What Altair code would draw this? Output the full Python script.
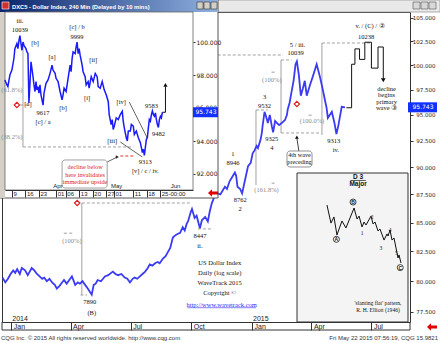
import altair as alt
import pandas as pd

W, H = 408, 310

# ---------------- main daily series: US Dollar Index ----------------
main_dates = [
    "2013-12-19", "2013-12-23", "2013-12-27", "2013-12-31",
    "2014-01-04", "2014-01-07", "2014-01-10", "2014-01-14", "2014-01-17", "2014-01-22", "2014-01-26", "2014-01-29",
    "2014-02-01", "2014-02-05", "2014-02-09", "2014-02-13", "2014-02-17", "2014-02-20", "2014-02-24", "2014-02-28",
    "2014-03-04", "2014-03-08", "2014-03-11", "2014-03-15", "2014-03-19", "2014-03-22", "2014-03-26", "2014-03-30",
    "2014-04-03", "2014-04-08", "2014-04-12", "2014-04-15", "2014-04-19", "2014-04-23", "2014-04-27",
    "2014-05-03", "2014-05-06", "2014-05-09", "2014-05-12", "2014-05-17", "2014-05-23", "2014-05-28",
    "2014-06-04", "2014-06-08", "2014-06-12", "2014-06-17", "2014-06-22", "2014-06-26", "2014-06-30",
    "2014-07-04", "2014-07-07", "2014-07-11", "2014-07-15", "2014-07-19", "2014-07-23", "2014-07-27", "2014-07-30",
    "2014-08-03", "2014-08-07", "2014-08-11", "2014-08-14", "2014-08-19", "2014-08-23", "2014-08-26", "2014-08-30",
    "2014-09-03", "2014-09-07", "2014-09-10", "2014-09-14", "2014-09-18", "2014-09-21", "2014-09-24", "2014-09-26", "2014-09-30",
    "2014-10-02", "2014-10-06", "2014-10-09", "2014-10-14", "2014-10-17", "2014-10-22", "2014-10-26", "2014-10-29",
    "2014-11-01", "2014-11-05", "2014-11-10", "2014-11-14", "2014-11-18", "2014-11-21", "2014-11-24", "2014-11-28",
    "2014-12-02", "2014-12-06", "2014-12-08", "2014-12-10", "2014-12-14", "2014-12-17", "2014-12-21", "2014-12-26", "2014-12-30",
    "2015-01-02", "2015-01-05", "2015-01-08", "2015-01-10", "2015-01-14", "2015-01-16", "2015-01-17", "2015-01-20",
    "2015-01-23", "2015-01-25", "2015-01-28", "2015-01-31",
    "2015-02-02", "2015-02-05", "2015-02-08", "2015-02-11", "2015-02-15", "2015-02-20", "2015-02-23", "2015-02-24", "2015-02-27",
    "2015-03-02", "2015-03-05", "2015-03-08", "2015-03-10", "2015-03-13", "2015-03-16", "2015-03-19", "2015-03-22", "2015-03-25", "2015-03-30",
    "2015-04-03", "2015-04-09", "2015-04-14", "2015-04-18", "2015-04-24", "2015-04-26",
    "2015-05-02", "2015-05-06", "2015-05-09", "2015-05-12", "2015-05-17", "2015-05-22",
]
main_vals = [
    80.3, 79.9, 80.2, 80.6,
    80.9, 80.7, 81.0, 80.6, 81.1, 80.9, 80.5, 80.8,
    81.1, 80.9, 80.6, 80.4, 80.2, 80.3, 80.0, 80.2,
    79.9, 79.7, 79.4, 79.6, 79.9, 80.1, 79.8, 80.1,
    80.4, 79.7, 79.9, 79.8, 80.0, 79.7, 79.4,
    78.9, 79.7, 79.8, 80.1, 80.0, 80.4, 80.5,
    80.8, 80.6, 80.5, 80.6, 80.3, 80.2, 79.9,
    80.2, 80.3, 80.2, 80.4, 80.6, 80.8, 81.1, 81.4,
    81.3, 81.5, 81.6, 81.5, 81.9, 82.1, 82.4, 82.8,
    83.7, 83.9, 84.0, 84.1, 84.6, 84.3, 84.9, 85.1, 85.9,
    86.2, 85.4, 85.6, 84.5, 85.2, 85.5, 85.1, 86.0,
    86.7, 87.3, 87.6, 87.5, 87.9, 88.2, 88.0, 88.7,
    89.1, 89.5, 89.2, 88.2, 88.0, 87.6, 88.7, 90.1, 90.4,
    91.3, 91.6, 92.0, 91.8, 92.6, 93.3, 93.9, 95.3,
    94.7, 94.2, 95.0, 93.9,
    93.3, 94.4, 94.2, 94.0, 94.2, 94.5, 95.0, 95.5, 96.2,
    97.3, 98.4, 100.1, 100.39, 99.0, 96.9, 97.6, 98.4, 96.9, 98.0,
    98.8, 100.1, 98.8, 97.6, 95.7, 94.7,
    95.3, 94.2, 93.13, 94.0, 95.8, 95.743,
]

# projected path (v. / (C) / 2)
proj_dates = ["2015-05-24", "2015-06-01", "2015-06-06", "2015-06-13", "2015-06-21", "2015-07-01", "2015-07-11", "2015-07-19"]
proj_vals = [95.7, 100.1, 101.7, 100.6, 102.4, 99.7, 101.9, 98.6]

# wave labels on the daily chart
lab_dates = ["2014-04-30", "2014-05-03", "2014-10-14", "2014-10-14", "2014-12-03", "2014-12-03", "2014-12-14", "2014-12-14",
             "2015-01-20", "2015-01-20", "2015-01-31", "2015-01-31", "2015-03-11", "2015-03-08", "2015-05-05", "2015-05-08",
             "2015-06-29", "2015-06-23", "2015-07-24", "2015-07-24", "2015-07-24", "2015-07-24",
             "2014-11-13", "2014-11-13", "2014-11-13", "2014-11-13"]
lab_vals = [78.31, 77.42, 83.83, 82.97, 91.23, 90.39, 87.0, 86.19,
            96.77, 95.88, 92.66, 91.80, 102.11, 101.27, 92.47, 91.61,
            104.14, 102.96, 97.57, 96.97, 96.27, 95.68,
            81.52, 80.69, 79.85, 79.03]
lab_texts = ["7890", "(B)", "8447", "ii.", "1", "8946", "8762", "2",
             "3", "9532", "9325", "4", "5 / iii.", "10039", "9313", "iv.",
             "v.  / (C) / \u2461", "10238", "decline", "begins", "primary", "wave \u2462",
             "US Dollar Index", "Daily (log scale)", "WaveTrack 2015", "Copyright \u00a9"]

gray_dates = ["2015-02-02", "2015-01-31", "2015-03-30", "2015-04-02", "2015-02-02", "2015-01-23", "2014-03-28", "2014-04-03"]
gray_vals = [99.30, 98.49, 94.99, 94.40, 88.55, 87.91, 84.08, 83.39]
gray_texts = ["=", "(100%)", "=", "(100.0%)", "=", "(161.8%)", "= =", "(100%)"]

solid_segs = [("2014-04-18", 78.87, "2014-04-18", 86.73),
              ("2015-01-07", 88.36, "2015-01-07", 95.48),
              ("2015-02-14", 93.24, "2015-02-14", 100.54),
              ("2015-04-17", 93.04, "2015-04-17", 102.32)]
dash_segs = [("2014-04-18", 86.73, "2014-09-29", 86.73),
             ("2014-04-16", 78.87, "2014-04-26", 78.87),
             ("2015-01-07", 95.48, "2015-01-25", 95.48),
             ("2014-11-10", 101.06, "2015-02-17", 101.06),
             ("2015-02-14", 100.54, "2015-03-02", 100.54),
             ("2015-02-14", 93.24, "2015-04-14", 93.24),
             ("2015-04-17", 102.32, "2015-07-02", 102.32),
             ("2014-10-11", 84.44, "2014-11-03", 84.44)]

marker_dates = ["2014-04-11", "2015-03-10"]
marker_vals = [86.73, 96.07]

year_dates = ["2014-01-01", "2015-01-01"]
year_texts = ["2014", "2015"]

last_price = 95.743

# ---------------- inset: 240 min series ----------------
inset_times = ["03-05 08", "03-06 10", "03-06 22", "03-07 23", "03-09 00", "03-10 01", "03-10 13", "03-11 14", "03-12 03", "03-12 16",
               "03-13 04", "03-13 17", "03-14 05", "03-14 18", "03-15 06", "03-16 07", "03-16 19", "03-17 08", "03-17 20", "03-18 09",
               "03-18 22", "03-19 23", "03-20 11", "03-21 00", "03-21 12", "03-22 00", "03-22 13", "03-23 01", "03-23 14", "03-24 02",
               "03-25 04", "03-25 16", "03-26 17", "03-27 18", "03-28 19", "03-29 20", "03-30 08", "03-31 10", "03-31 22", "04-01 23",
               "04-03 00", "04-04 01", "04-04 13", "04-05 02", "04-06 03", "04-07 04", "04-08 05", "04-08 17", "04-09 06", "04-09 18",
               "04-10 19", "04-11 08", "04-11 20", "04-12 09", "04-12 21", "04-13 10", "04-14 11", "04-14 23", "04-16 00", "04-16 13",
               "04-17 14", "04-18 02", "04-19 04", "04-20 05", "04-21 06", "04-22 06", "04-22 19", "04-23 20", "04-24 21", "04-25 22",
               "04-26 23", "04-28 00", "04-28 12", "04-29 13", "04-30 02", "04-30 14", "05-01 03", "05-02 04", "05-03 05", "05-04 06",
               "05-05 07", "05-05 19", "05-06 08", "05-07 09", "05-07 22", "05-08 10", "05-09 11", "05-10 00", "05-11 00", "05-11 13",
               "05-12 14", "05-13 15", "05-14 16", "05-15 05", "05-15 17", "05-16 06", "05-16 18", "05-17 06", "05-17 19", "05-18 07",
               "05-18 20", "05-19 08", "05-19 21", "05-20 10", "05-20 22", "05-21 11", "05-21 23", "05-22 12", "05-23 00", "05-23 12",
               "05-24 01", "05-24 13", "05-25 02", "05-25 14", "05-26 03"]
inset_vals = [97.7, 97.4, 97.3, 98.0, 98.3, 99.0, 99.6, 99.9, 99.6, 100.1,
              100.39, 99.9, 99.5, 100.0, 99.8, 99.6, 99.4, 99.3, 96.3, 97.5,
              98.8, 97.9, 97.4, 97.0, 97.6, 97.1, 97.3, 96.9, 97.4, 96.8,
              96.17, 96.9, 97.5, 97.7, 98.1, 98.6, 98.3, 98.1, 97.8, 97.6,
              97.0, 96.5, 96.8, 97.2, 97.0, 97.8, 98.6, 98.2, 99.0, 99.4,
              99.3, 99.7, 99.99, 99.3, 99.6, 99.2, 98.6, 98.2, 97.9, 97.4,
              97.6, 97.2, 97.9, 97.6, 98.1, 97.9, 97.3, 97.2, 97.6, 97.1,
              96.8, 96.4, 95.6, 95.0, 95.3, 94.7, 94.9, 95.4, 95.3, 95.6,
              95.8, 95.2, 94.8, 94.2, 94.0, 94.6, 94.6, 95.0, 94.9, 94.4,
              94.6, 94.2, 93.9, 93.6, 93.3, 93.5, 93.13, 93.6, 94.1, 94.2,
              94.8, 95.3, 95.2, 95.6, 95.83, 95.6, 95.5, 95.7, 95.3, 95.0,
              94.82, 95.3, 95.5, 95.4, 95.743]

in_lab_times = ["03-13 04", "03-13 04", "03-21 00", "03-17 08", "03-25 04", "03-25 04", "03-29 20", "04-04 13",
                "04-11 20", "04-11 20", "04-20 05", "04-17 00", "05-04 18", "04-30 02", "05-20 10", "05-24 01",
                "05-17 06", "05-17 06"]
in_lab_vals = [101.27, 100.73, 99.94, 96.24, 95.70, 95.15, 99.10, 96.00,
               100.91, 100.30, 98.90, 96.60, 96.36, 94.00, 96.12, 94.42,
               92.73, 92.18]
in_lab_texts = ["iii.", "10039", "[b]", "[a]", "9617", "[c] / a", "[a]", "[b]",
                "[c] / b", "9999", "[ii]", "[i]", "[iv]", "[iii]", "9583", "9482",
                "9313", "[v] / c / iv."]

in_gray_times = ["03-09 00", "03-09 00"]
in_gray_vals = [97.10, 94.24]
in_gray_texts = ["(61.8%)", "(38.2%)"]

in_red_times = ["04-16 00", "04-16 00", "04-16 00"]
in_red_vals = [92.42, 91.94, 91.52]
in_red_texts = ["decline below", "here invalidates", "immediate upside"]

in_month_times = ["04-01 00", "05-01 00", "06-01 00"]
in_month_texts = ["Apr", "May", "Jun"]

in_axis_vals = [92, 94, 98, 100]
in_hidden_tick = 96.0

in_gray_segs = [("03-14 18", 93.64, "03-14 18", 99.94)]
in_dash_segs = [("03-14 18", 93.64, "05-11 01", 93.64), ("03-13 04", 96.18, "03-18 09", 96.18)]
in_trend_segs = [("05-08 22", 96.36, "05-18 07", 94.18), ("05-04 06", 93.94, "05-15 17", 93.03),
                 ("04-27 11", 92.73, "05-02 17", 93.03)]
in_red_segs = [("05-04 06", 93.09, "05-11 00", 93.09)]
in_arrow_times = ["05-26 03", "05-27 17", "05-27 17"]
in_arrow_vals = [95.743, 95.743, 97.3]

# ---------------- schematic "D 3 Major" (slanting flat) ----------------
sch_x = [27.0, 30.6, 33.3, 36.0, 40.5, 44.1, 51.4, 54.1, 55.9, 58.6, 60.4, 62.2, 66.7, 68.5, 70.3, 73.0, 74.8,
         78.4, 81.1, 82.0, 83.8, 85.6, 87.4, 91.0, 91.9, 93.7]
sch_y = [78.5, 66.4, 70.5, 58.4, 67.8, 63.1, 76.5, 69.1, 71.1, 63.8, 67.1, 65.1, 71.1, 65.8, 67.1, 61.1, 62.4,
         55.0, 59.1, 57.7, 61.7, 55.0, 56.4, 43.0, 45.0, 39.6]
sch_circ_x = [35.5, 50.5, 93.0]
sch_circ_y = [55.5, 80.5, 36.5]
sch_circ_t = ["A", "B", "C"]
sch_num_x = [58.6, 67.6, 75.5, 83.8, 89.5]
sch_num_y = [59.5, 70.5, 49.5, 61.5, 46.0]
sch_num_t = ["1", "2", "3", "4", "5"]


# ---------------- helpers ----------------
def dts(s):
    return s + "T00:00"


def its(s):
    return "2015-" + s[:5] + "T" + s[6:8] + ":00"


one = pd.DataFrame({"k": [0]})


def vbox(x1, x2, y1, y2, **kw):
    return alt.Chart(one).mark_rect(**kw).encode(
        x=alt.value(x1), x2=alt.value(x2), y=alt.value(y1), y2=alt.value(y2))


def vtext(txt, x, y, **kw):
    return alt.Chart(one).mark_text(**kw).encode(x=alt.value(x), y=alt.value(y), text=alt.value(txt))


SERIF = "Liberation Serif"
SANS = "Liberation Sans"

# ---------------- main scales ----------------
mx_scale = alt.Scale(type="time", nice=False,
                     domain=[alt.DateTime(year=2013, month=12, date=18),
                             alt.DateTime(year=2015, month=8, date=28, hours=12)])
my_scale = alt.Scale(type="log", domain=[76.70, 105.65], nice=False, zero=False)
mx_axis = alt.Axis(title=None, orient="bottom", format="%b", grid=False, domain=False,
                   values=[alt.DateTime(year=2014, month=1, date=1), alt.DateTime(year=2014, month=4, date=1),
                           alt.DateTime(year=2014, month=7, date=1), alt.DateTime(year=2014, month=10, date=1),
                           alt.DateTime(year=2015, month=1, date=1), alt.DateTime(year=2015, month=4, date=1),
                           alt.DateTime(year=2015, month=7, date=1)],
                   labelAlign="left", labelOffset=2, labelBaseline="middle", labelPadding=-4,
                   tickSize=8, tickColor="#333", labelFont=SANS, labelFontSize=7, labelColor="#222",
                   labelFlush=False, labelOverlap=False, zindex=1)
my_axis = alt.Axis(title=None, orient="right", format=".3f", grid=False, domain=False,
                   values=[77.5, 80, 82.5, 85, 87.5, 90, 92.5, 95, 97.5, 100, 102.5, 105],
                   labelAlign="right", labelPadding=22, tickSize=3, tickColor="#333",
                   labelFont="DejaVu Sans", labelFontSize=5.5, labelColor="#222", labelBaseline="middle",
                   labelFlush=False, labelOverlap=False, zindex=1)


def MX(f="d"):
    return alt.X(f + ":T", scale=mx_scale, axis=mx_axis)


def MY(f="v"):
    return alt.Y(f + ":Q", scale=my_scale, axis=my_axis)


df_main = pd.DataFrame({"d": [dts(s) for s in main_dates], "v": main_vals})
df_proj = pd.DataFrame({"d": [dts(s) for s in proj_dates], "v": proj_vals})
df_lab = pd.DataFrame({"d": [dts(s) for s in lab_dates], "v": lab_vals, "t": lab_texts})
df_gray = pd.DataFrame({"d": [dts(s) for s in gray_dates], "v": gray_vals, "t": gray_texts})
df_solid = pd.DataFrame([(dts(a), b, dts(c), d) for a, b, c, d in solid_segs], columns=["d", "v", "d2", "v2"])
df_dash = pd.DataFrame([(dts(a), b, dts(c), d) for a, b, c, d in dash_segs], columns=["d", "v", "d2", "v2"])
df_mark = pd.DataFrame({"d": [dts(s) for s in marker_dates], "v": marker_vals})
df_year = pd.DataFrame({"d": [dts(s) for s in year_dates], "t": year_texts})
df_link = pd.DataFrame({"d": [dts("2014-11-16")], "v": [78.06], "t": ["http://www.wavetrack.com"]})
df_link_ul = pd.DataFrame({"d": [dts("2014-09-25")], "d2": [dts("2015-01-07")], "v": [77.84]})
df_box4 = pd.DataFrame({"d": [dts("2015-02-23")], "d2": [dts("2015-04-02")], "v": [91.52], "v2": [90.02]})
df_box4_t = pd.DataFrame({"d": [dts("2015-03-14")] * 2, "v": [91.14, 90.49], "t": ["4th wave", "preceding"]})
df_box4_arrow = pd.DataFrame({"d": [dts("2015-03-13")], "v": [91.52], "d2": [dts("2015-03-10")], "v2": [92.75]})
df_box4_head = pd.DataFrame({"d": [dts("2015-03-10")], "v": [92.85]})
df_proj_head = pd.DataFrame({"d": [dts(proj_dates[-1])], "v": [proj_vals[-1] - 0.15]})
df_price = pd.DataFrame({"v": [last_price], "t": [f"{last_price:.3f}"]})

RECT_MAIN = "M-1,-0.345L1,-0.345L1,0.345L-1,0.345Z"
RECT_INSET = "M-1,-0.4L1,-0.4L1,0.4L-1,0.4Z"
ARROW_LEFT = "M-1,0L-0.2,-0.75L-0.2,-0.3L1,-0.3L1,0.3L-0.2,0.3L-0.2,0.75Z"

main_layers = [
    vbox(-2, 438, -12, 0, fill="#e9e9e9", stroke="#9a9a9a", strokeWidth=0.8),
    alt.Chart(df_dash).mark_rule(color="#8a8a8a", strokeWidth=0.8, strokeDash=[3, 2]).encode(
        x=MX(), x2="d2:T", y=MY(), y2="v2:Q"),
    alt.Chart(df_solid).mark_rule(color="#8a8a8a", strokeWidth=0.8).encode(
        x=MX(), x2="d2:T", y=MY(), y2="v2:Q"),
    alt.Chart(df_main).mark_line(color="#3b3bf2", strokeWidth=1.8).encode(x=MX(), y=MY()),
    alt.Chart(df_proj).mark_line(color="#111", strokeWidth=1, interpolate="step-after").encode(x=MX(), y=MY()),
    alt.Chart(df_proj_head).mark_point(shape="triangle-down", filled=True, color="#111", size=22, opacity=1).encode(
        x=MX(), y=MY()),
    alt.Chart(df_lab).mark_text(font=SERIF, fontSize=6.5, color="#111").encode(x=MX(), y=MY(), text="t:N"),
    alt.Chart(df_gray).mark_text(font=SERIF, fontSize=6.5, color="#8a8a8a").encode(x=MX(), y=MY(), text="t:N"),
    alt.Chart(df_link).mark_text(font=SERIF, fontSize=6.5, color="#2a2aff").encode(x=MX(), y=MY(), text="t:N"),
    alt.Chart(df_link_ul).mark_rule(color="#2a2aff", strokeWidth=0.6).encode(x=MX(), x2="d2:T", y=MY()),
    alt.Chart(df_mark).mark_point(shape="diamond", color="#e02020", filled=False, size=28, strokeWidth=1.2,
                                  opacity=1).encode(x=MX(), y=MY()),
    alt.Chart(df_box4_arrow).mark_rule(color="#111", strokeWidth=0.8).encode(x=MX(), x2="d2:T", y=MY(), y2="v2:Q"),
    alt.Chart(df_box4_head).mark_point(shape="triangle-up", filled=True, color="#111", size=14, opacity=1).encode(
        x=MX(), y=MY()),
    alt.Chart(df_box4).mark_rect(fill="white", stroke="#777", strokeWidth=0.8, cornerRadius=3).encode(
        x=MX(), x2="d2:T", y=MY(), y2="v2:Q"),
    alt.Chart(df_box4_t).mark_text(font=SERIF, fontSize=6.2, color="#111").encode(x=MX(), y=MY(), text="t:N"),
    alt.Chart(df_year).mark_text(font=SANS, fontSize=7, color="#222", align="left", dx=1).encode(
        x=MX(), y=alt.value(307), text="t:N"),
    alt.Chart(df_price).mark_point(shape=RECT_MAIN, size=841, filled=True, color="#1230ff", opacity=1).encode(
        x=alt.value(420.5), y=MY()),
    alt.Chart(df_price).mark_text(font="DejaVu Sans", fontSize=6, color="white").encode(
        x=alt.value(421), y=MY(), text="t:N"),
    alt.Chart(one).mark_rule(color="#333", strokeWidth=1).encode(x=alt.value(0), x2=alt.value(408), y=alt.value(318)),
    alt.Chart(one).mark_rule(color="#333", strokeWidth=1).encode(x=alt.value(408), y=alt.value(310), y2=alt.value(318)),
    alt.Chart(one).mark_rule(color="#333", strokeWidth=1).encode(x=alt.value(0), y=alt.value(310), y2=alt.value(318)),
    vbox(411, 418, -10, -3, fill="#d8d8d8", stroke="#555", strokeWidth=0.6),
    vbox(419, 426, -10, -3, fill="#d8d8d8", stroke="#555", strokeWidth=0.6),
    vbox(427, 434, -10, -3, fill="#d8d8d8", stroke="#555", strokeWidth=0.6),
    vtext("CQG Inc. \u00a9 2015 All rights reserved worldwide. http://www.cqg.com", -1, 325.5,
          font=SANS, fontSize=6, color="#333", align="left"),
    vtext("Fri May 22 2015 07:56:19, CQG 15.9821", 436, 325.5, font=SANS, fontSize=6, color="#333", align="right"),
    alt.Chart(one).mark_point(shape=ARROW_LEFT, size=100, filled=True, color="#e00000", opacity=1).encode(
        x=alt.value(430), y=alt.value(315)),
]
main_group = alt.layer(*main_layers)

# ---------------- inset scales ----------------
ix_scale = alt.Scale(type="time", nice=False, range=[3, 191],
                     domain=[alt.DateTime(year=2015, month=3, date=5, hours=10),
                             alt.DateTime(year=2015, month=6, date=11)])
iy_scale = alt.Scale(domain=[91.03, 101.82], range=[178, 0], nice=False, zero=False)
ix_axis = alt.Axis(title=None, orient="bottom", offset=-132, grid=False, domainColor="#333",
                   values=[alt.DateTime(year=2015, month=3, date=9), alt.DateTime(year=2015, month=3, date=16),
                           alt.DateTime(year=2015, month=3, date=23), alt.DateTime(year=2015, month=4, date=1),
                           alt.DateTime(year=2015, month=4, date=6), alt.DateTime(year=2015, month=4, date=13),
                           alt.DateTime(year=2015, month=4, date=20), alt.DateTime(year=2015, month=4, date=27),
                           alt.DateTime(year=2015, month=5, date=1), alt.DateTime(year=2015, month=5, date=11),
                           alt.DateTime(year=2015, month=5, date=18), alt.DateTime(year=2015, month=5, date=25)],
                   labelExpr="date(datum.value) == 9 ? '9' : (date(datum.value) == 25 ? '25-00:00' : timeFormat(datum.value, '%d'))",
                   labelAlign="left", labelOffset=1, labelBaseline="middle", labelPadding=-3.5,
                   tickSize=7, tickColor="#333", labelFont=SANS, labelFontSize=6, labelColor="#222",
                   labelFlush=False, labelOverlap=False, zindex=1)
iy_axis = alt.Axis(title=None, orient="right", offset=-217, grid=False, domain=False, format=".3f",
                   values=in_axis_vals, labelAlign="left", labelPadding=1, tickSize=2, tickColor="#333",
                   labelFont="DejaVu Sans", labelFontSize=6, labelColor="#222", labelBaseline="middle",
                   labelFlush=False, labelOverlap=False, zindex=1)


def IX(f="d"):
    return alt.X(f + ":T", scale=ix_scale, axis=ix_axis)


def IY(f="v"):
    return alt.Y(f + ":Q", scale=iy_scale, axis=iy_axis)


def iseg(rows):
    return pd.DataFrame([(its(a), b, its(c), d) for a, b, c, d in rows], columns=["d", "v", "d2", "v2"])


df_in = pd.DataFrame({"d": [its(s) for s in inset_times], "v": inset_vals})
df_in_lab = pd.DataFrame({"d": [its(s) for s in in_lab_times], "v": in_lab_vals, "t": in_lab_texts})
df_in_gray = pd.DataFrame({"d": [its(s) for s in in_gray_times], "v": in_gray_vals, "t": in_gray_texts})
df_in_red = pd.DataFrame({"d": [its(s) for s in in_red_times], "v": in_red_vals, "t": in_red_texts})
df_in_month = pd.DataFrame({"d": [its(s) for s in in_month_times], "v": [91.30] * 3, "t": in_month_texts})
df_in_arrow = pd.DataFrame({"d": [its(s) for s in in_arrow_times], "v": in_arrow_vals, "o": [0, 1, 2]})
df_in_head = pd.DataFrame({"d": [its(in_arrow_times[-1])], "v": [in_arrow_vals[-1] + 0.1]})
df_in_callhead = pd.DataFrame({"d": [its("05-02 17")], "v": [93.03]})
df_in_box = pd.DataFrame({"d": [its("04-04 01")], "d2": [its("04-27 11")], "v": [92.85], "v2": [91.15]})
df_in_mark = pd.DataFrame({"d": [its("03-11 14")], "v": [96.18]})
df_in_hidden = pd.DataFrame({"v": [in_hidden_tick], "t": [f"{in_hidden_tick:.3f}"]})

title_grad = alt.LinearGradient(gradient="linear", x1=0, x2=1, y1=0, y2=0,
                                stops=[alt.GradientStop(color="#0a246a", offset=0),
                                       alt.GradientStop(color="#8fb0e0", offset=1)])

inset_layers = [
    vbox(-2, 216, -12, 186, fill="white", stroke="#555", strokeWidth=1),
    vbox(-2, 3, 0, 186, fill="#d4d0c8"),
    vbox(-2, 216, -12, 0, fill=title_grad),
    vbox(0, 7, -10, -3, fill="#d03030", stroke="white", strokeWidth=0.6),
    vtext("DXC5 - Dollar Index, 240 Min (Delayed by 10 mins)", 10, -5.5, font=SANS, fontSize=5.8,
          color="white", align="left", fontWeight="bold"),
    vbox(195, 201, -10, -3, fill="#d4d0c8", stroke="#333", strokeWidth=0.6),
    vbox(202, 208, -10, -3, fill="#d4d0c8", stroke="#333", strokeWidth=0.6),
    vbox(209, 215, -10, -3, fill="#d4d0c8", stroke="#333", strokeWidth=0.6),
    vbox(3, 191, 0, 178, fill="white", stroke="#666", strokeWidth=0.8),
    alt.Chart(iseg(in_dash_segs)).mark_rule(color="#8a8a8a", strokeWidth=0.8, strokeDash=[3, 2]).encode(
        x=IX(), x2="d2:T", y=IY(), y2="v2:Q"),
    alt.Chart(iseg(in_gray_segs)).mark_rule(color="#8a8a8a", strokeWidth=0.8).encode(
        x=IX(), x2="d2:T", y=IY(), y2="v2:Q"),
    alt.Chart(iseg(in_red_segs)).mark_rule(color="#e03030", strokeWidth=1, strokeDash=[3, 2]).encode(
        x=IX(), x2="d2:T", y=IY(), y2="v2:Q"),
    alt.Chart(df_in).mark_line(color="#1a1aff", strokeWidth=1.5).encode(x=IX(), y=IY()),
    alt.Chart(iseg(in_trend_segs)).mark_rule(color="#222", strokeWidth=0.7).encode(
        x=IX(), x2="d2:T", y=IY(), y2="v2:Q"),
    alt.Chart(df_in_callhead).mark_point(shape="triangle-right", filled=True, color="#222", size=12,
                                         opacity=1).encode(x=IX(), y=IY()),
    alt.Chart(df_in_arrow).mark_line(color="#111", strokeWidth=1).encode(x=IX(), y=IY(), order="o:Q"),
    alt.Chart(df_in_head).mark_point(shape="triangle-up", filled=True, color="#111", size=18, opacity=1).encode(
        x=IX(), y=IY()),
    alt.Chart(df_in_mark).mark_point(shape="diamond", color="#e02020", filled=False, size=28, strokeWidth=1.2,
                                     opacity=1).encode(x=IX(), y=IY()),
    alt.Chart(df_in_lab).mark_text(font=SERIF, fontSize=6.5, color="#111").encode(x=IX(), y=IY(), text="t:N"),
    alt.Chart(df_in_gray).mark_text(font=SERIF, fontSize=6.5, color="#8a8a8a").encode(x=IX(), y=IY(), text="t:N"),
    alt.Chart(df_in_box).mark_rect(fill="white", stroke="#888", strokeWidth=0.8, cornerRadius=3).encode(
        x=IX(), x2="d2:T", y=IY(), y2="v2:Q"),
    alt.Chart(df_in_red).mark_text(font=SERIF, fontSize=6.3, color="#e02020").encode(x=IX(), y=IY(), text="t:N"),
    alt.Chart(df_in_month).mark_text(font=SANS, fontSize=6, color="#222", align="left", dx=-3).encode(
        x=IX(), y=IY(), text="t:N"),
    # the 96.000 tick label sits partly behind the current-price box, as in the original
    alt.Chart(df_in_hidden).mark_text(font="DejaVu Sans", fontSize=6, color="#222", align="left").encode(
        x=alt.value(194), y=IY(), text="t:N"),
    alt.Chart(df_price).mark_point(shape=RECT_INSET, size=625, filled=True, color="#1230ff", opacity=1).encode(
        x=alt.value(203.5), y=IY()),
    alt.Chart(df_price).mark_text(font="DejaVu Sans", fontSize=6, color="white").encode(
        x=alt.value(204), y=IY(), text="t:N"),
    alt.Chart(one).mark_point(shape=ARROW_LEFT, size=100, filled=True, color="#e00000", opacity=1).encode(
        x=alt.value(211), y=alt.value(181)),
]
inset_group = alt.layer(*inset_layers)

# ---------------- schematic group ----------------
sx_scale = alt.Scale(domain=[0, 100], range=[295, 406], nice=False, zero=False)
sy_scale = alt.Scale(domain=[0, 100], range=[310, 161], nice=False, zero=False)


def SX(f="x"):
    return alt.X(f + ":Q", scale=sx_scale, axis=None)


def SY(f="y"):
    return alt.Y(f + ":Q", scale=sy_scale, axis=None)


df_sbox = pd.DataFrame({"x": [0], "x2": [100], "y": [0], "y2": [100]})
df_sline = pd.DataFrame({"x": sch_x, "y": sch_y, "o": list(range(len(sch_x)))})
df_scirc = pd.DataFrame({"x": sch_circ_x, "y": sch_circ_y, "t": sch_circ_t})
df_snum = pd.DataFrame({"x": sch_num_x, "y": sch_num_y, "t": sch_num_t})
df_stitle = pd.DataFrame({"x": [55, 55], "y": [97.3, 92.4], "t": ["D 3", "Major"]})
df_sul = pd.DataFrame({"x": [48], "x2": [62], "y": [95.0]})
df_scap = pd.DataFrame({"x": [73, 73], "y": [12.8, 8.0], "t": ["'slanting flat' pattern,", "R. H. Elliott (1946)"]})

schem_layers = [
    alt.Chart(df_sbox).mark_rect(fill="#f4f4f4", stroke="#333", strokeWidth=1).encode(
        x=SX(), x2="x2:Q", y=SY(), y2="y2:Q"),
    alt.Chart(df_sline).mark_line(color="#111", strokeWidth=1).encode(x=SX(), y=SY(), order="o:Q"),
    alt.Chart(df_scirc).mark_point(shape="circle", filled=True, fill="white", stroke="#111", size=36,
                                   strokeWidth=0.8, opacity=1).encode(x=SX(), y=SY()),
    alt.Chart(df_scirc).mark_text(font=SANS, fontSize=5, fontWeight="bold", color="#111").encode(
        x=SX(), y=SY(), text="t:N"),
    alt.Chart(df_snum).mark_text(font=SERIF, fontSize=5.5, color="#111").encode(x=SX(), y=SY(), text="t:N"),
    alt.Chart(df_stitle).mark_text(font=SANS, fontSize=6.5, fontWeight="bold", color="#111").encode(
        x=SX(), y=SY(), text="t:N"),
    alt.Chart(df_sul).mark_rule(color="#111", strokeWidth=0.7).encode(x=SX(), x2="x2:Q", y=SY()),
    alt.Chart(df_scap).mark_text(font=SERIF, fontSize=5.6, color="#111").encode(x=SX(), y=SY(), text="t:N"),
]
schem_group = alt.layer(*schem_layers)

chart = alt.layer(main_group, inset_group, schem_group).resolve_scale(
    x="independent", y="independent"
).properties(
    width=W, height=H,
    padding={"left": 2, "top": 12, "right": 30, "bottom": 21},
    autosize=alt.AutoSizeParams(type="none"),
    background="white",
).configure_view(stroke="#333", strokeWidth=1)

chart.save("out.html", embed_options={"renderer": "svg", "actions": False})
